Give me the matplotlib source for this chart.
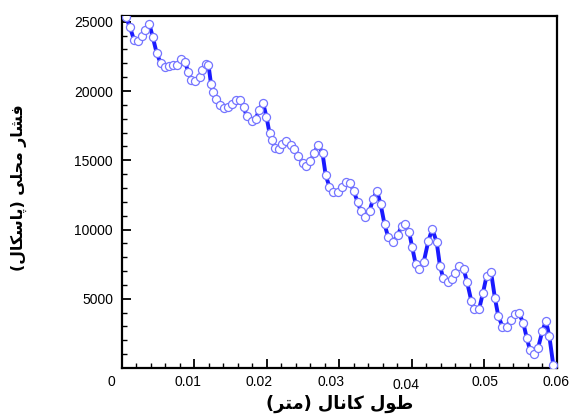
import matplotlib
matplotlib.use("Agg")
import matplotlib.pyplot as plt
from matplotlib.ticker import AutoMinorLocator
from matplotlib.transforms import ScaledTranslation

# channel length (m) and local pressure (Pa)
x_m = [0.00055, 0.00110, 0.00166, 0.00221, 0.00276, 0.00324, 0.00377, 0.00423,
       0.00479, 0.00534, 0.00589, 0.00652, 0.00708, 0.00763, 0.00814, 0.00869,
       0.00915, 0.00955, 0.01014, 0.01070, 0.01108, 0.01152, 0.01193, 0.01228,
       0.01262, 0.01297, 0.01352, 0.01411, 0.01469, 0.01517, 0.01568, 0.01632,
       0.01679, 0.01720, 0.01789, 0.01844, 0.01894, 0.01945, 0.01993, 0.02035,
       0.02065, 0.02115, 0.02166, 0.02214, 0.02266, 0.02331, 0.02379, 0.02434,
       0.02492, 0.02542, 0.02600, 0.02655, 0.02708, 0.02766, 0.02810, 0.02862,
       0.02917, 0.02979, 0.03034, 0.03090, 0.03149, 0.03197, 0.03252, 0.03297,
       0.03356, 0.03415, 0.03466, 0.03517, 0.03566, 0.03622, 0.03673, 0.03742,
       0.03807, 0.03858, 0.03903, 0.03961, 0.04003, 0.04052, 0.04103, 0.04161,
       0.04225, 0.04280, 0.04341, 0.04386, 0.04432, 0.04492, 0.04548, 0.04593,
       0.04652, 0.04713, 0.04761, 0.04818, 0.04862, 0.04928, 0.04979, 0.05030,
       0.05090, 0.05145, 0.05190, 0.05248, 0.05306, 0.05361, 0.05421, 0.05472,
       0.05535, 0.05582, 0.05628, 0.05683, 0.05738, 0.05797, 0.05848, 0.05894,
       0.05949]
p_pa = [25325, 24600, 23694, 23644, 23948, 24383, 24832, 23934,
        22731, 22006, 21702, 21810, 21883, 21897, 22281, 22122,
        21340, 20796, 20745, 21013, 21520, 21955, 21883, 20506,
        19926, 19419, 18985, 18745, 18861, 19057, 19369, 19383,
        18840, 18187, 17825, 17992, 18658, 19166, 18137, 16956,
        16448, 15869, 15847, 16159, 16427, 16122, 15833, 15289,
        14818, 14601, 14927, 15543, 16137, 15506, 13912, 13079,
        12702, 12680, 13065, 13427, 13369, 12767, 11956, 11304,
        10920, 11355, 12224, 12789, 11862, 10362, 9442, 9130,
        9637, 10253, 10413, 9804, 8717, 7478, 7116, 7630,
        9152, 10050, 9079, 7369, 6471, 6181, 6449, 6826,
        7333, 7152, 6181, 4855, 4224, 4290, 5420, 6666,
        6934, 5021, 3768, 2985, 2985, 3500, 3913, 3985,
        3261, 2196, 1290, 993, 1413, 2645, 3406, 2319,
        217]

x_ticks = [0, 0.01, 0.02, 0.03, 0.04, 0.05, 0.06]
x_tick_labels = ["0", "0.01", "0.02", "0.03", "0.04", "0.05", "0.06"]
y_ticks = [0, 5000, 10000, 15000, 20000, 25000]
y_tick_labels = ["", "5000", "10000", "15000", "20000", "25000"]

# Persian labels, written in shaped presentation forms and in visual order
x_label = "(\ufeae\ufe98\ufee3) \ufedd\ufe8e\ufee7\ufe8e\ufedb \ufedd\ufeee\ufec3"
y_label = "(\ufedd\ufe8e\ufedc\ufeb3\ufe8e\ufb58) \ufef0\ufee0\ufea4\ufee3 \ufead\ufe8e\ufeb8\ufed3"

fig = plt.figure(figsize=(5.82, 4.16), dpi=100)
ax = fig.add_axes([0.2096, 0.1154, 0.7474, 0.8462])

ax.plot(x_m, p_pa, color="#1a1aff", linewidth=2.8, zorder=2)
ax.plot(x_m, p_pa, linestyle="none", marker="o", markersize=5.8,
        markerfacecolor="white", markeredgecolor="#7474ff",
        markeredgewidth=0.9, zorder=3)

ax.set_xlim(0, 0.06)
ax.set_ylim(0, 25420)
ax.set_xticks(x_ticks)
ax.set_xticklabels(x_tick_labels)
ax.set_yticks(y_ticks)
ax.set_yticklabels(y_tick_labels)
ax.xaxis.set_minor_locator(AutoMinorLocator(5))
ax.yaxis.set_minor_locator(AutoMinorLocator(5))

ax.tick_params(which="both", direction="in", top=False, right=False,
               labelsize=10, width=1.3, colors="black")
ax.tick_params(which="major", length=6.5, pad=5)
ax.tick_params(which="minor", length=3.6, width=1.0)
ax.tick_params(axis="y", which="major", pad=6.5)
for lab in ax.get_xticklabels() + ax.get_yticklabels():
    lab.set_fontfamily("Liberation Sans")

# tecplot puts the x labels a little off their ticks
x_label_shift = [(-11, 0), (-7, 0), (-8, 0), (-8, 0), (-6, -3), (1, 0), (-1, 0)]
for lab, (dx, dy) in zip(ax.get_xticklabels(), x_label_shift):
    lab.set_transform(lab.get_transform() +
                      ScaledTranslation(dx / 100, dy / 100, fig.dpi_scale_trans))

for s in ax.spines.values():
    s.set_linewidth(1.6)

fig.text(0.584, 0.028, x_label, fontsize=12.8, fontweight="bold",
         family=["DejaVu Sans"], ha="center", va="center")
fig.text(0.032, 0.548, y_label, fontsize=11.3, fontweight="bold",
         family=["DejaVu Sans"], ha="center", va="center", rotation=90)

fig.savefig("out.png", dpi=100)
